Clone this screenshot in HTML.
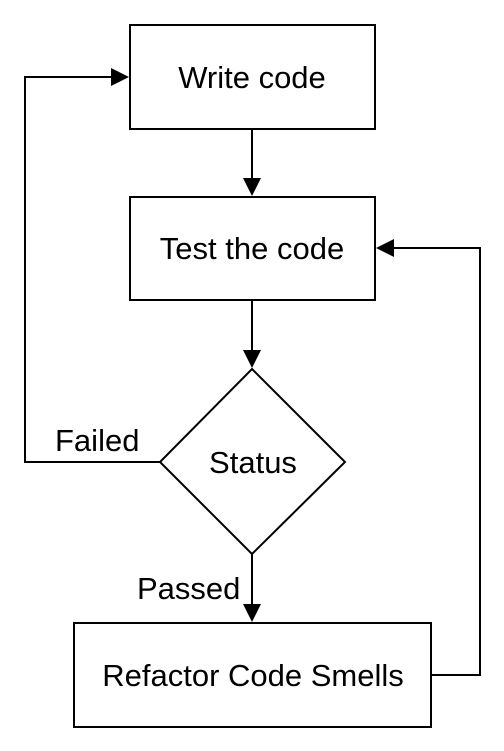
<!DOCTYPE html>
<html><head><meta charset="utf-8"><style>
html,body{margin:0;padding:0;background:#fff;}
svg{display:block;}
text{font-family:"Liberation Sans",sans-serif;font-size:31px;fill:#000;}
</style></head><body>
<svg width="504" height="751" viewBox="0 0 504 751" xmlns="http://www.w3.org/2000/svg">
<g fill="none" stroke="#000" stroke-width="2">
<rect x="130" y="25" width="245" height="104"/>
<rect x="130" y="197" width="245" height="103"/>
<polygon points="252,369 345,462 252,554 160,462"/>
<rect x="74" y="623" width="357" height="104"/>
<line x1="252" y1="129" x2="252" y2="180"/>
<line x1="252" y1="300" x2="252" y2="352"/>
<line x1="252" y1="554" x2="252" y2="606"/>
<polyline points="160,462 25,462 25,77 112,77"/>
<polyline points="431,675 480,675 480,248 393,248"/>
</g>
<g fill="#000">
<polygon points="243,178 261,178 252,196"/>
<polygon points="243,350 261,350 252,368"/>
<polygon points="243,604 261,604 252,622"/>
<polygon points="111,68 111,86 129,77"/>
<polygon points="394,239 394,257 376,248"/>
</g>
<text x="252" y="88" text-anchor="middle">Write code</text>
<text x="252" y="259" text-anchor="middle">Test the code</text>
<text x="253" y="473" text-anchor="middle">Status</text>
<text x="55" y="451">Failed</text>
<text x="137" y="599">Passed</text>
<text x="253" y="686" text-anchor="middle">Refactor Code Smells</text>
</svg>
</body></html>
